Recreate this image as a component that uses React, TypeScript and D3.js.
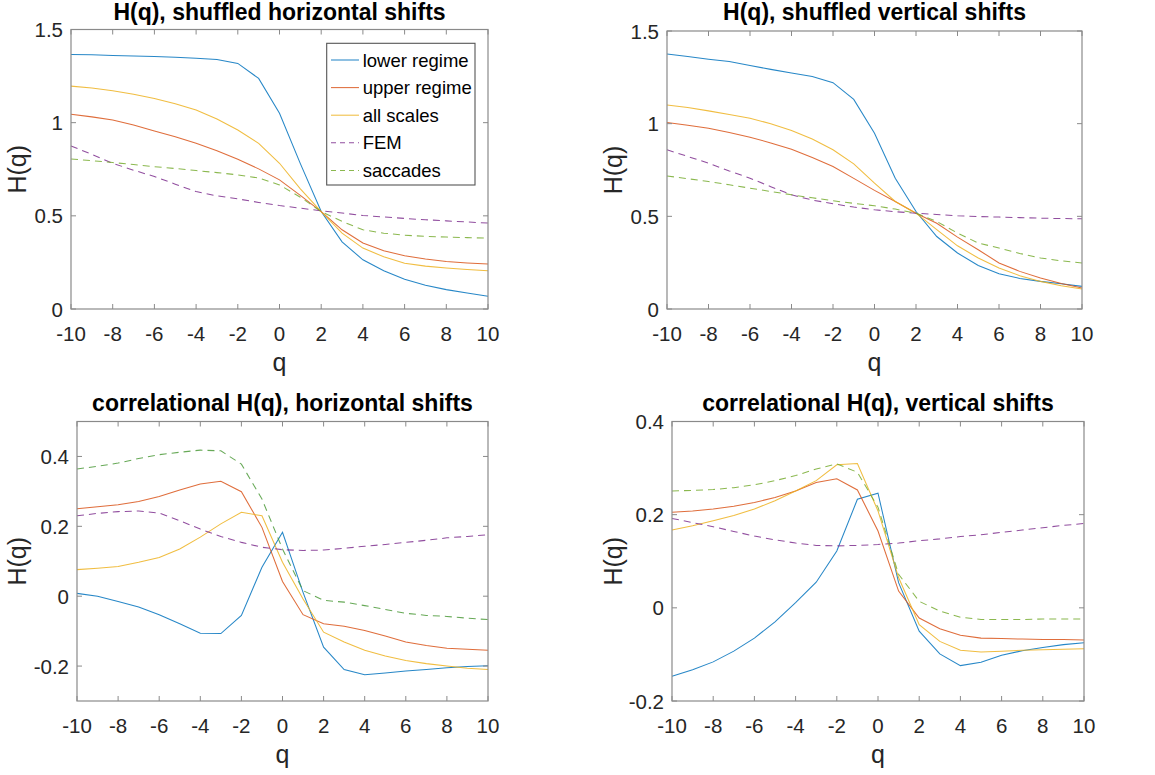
import React from "react";
import * as d3 from "d3";

const qValues = [-10, -9, -8, -7, -6, -5, -4, -3, -2, -1, 0, 1, 2, 3, 4, 5, 6, 7, 8, 9, 10];
const seriesNames = ["lower regime", "upper regime", "all scales", "FEM", "saccades"];
const xTicks = [-10, -8, -6, -4, -2, 0, 2, 4, 6, 8, 10];

// Panel 1: H(q), shuffled horizontal shifts
const shH_lower = [1.366, 1.364, 1.361, 1.358, 1.355, 1.351, 1.346, 1.339, 1.318, 1.2375, 1.05, 0.78, 0.523, 0.36, 0.264, 0.205, 0.16, 0.127, 0.104, 0.086, 0.068];
const shH_upper = [1.045, 1.031, 1.014, 0.987, 0.955, 0.924, 0.889, 0.849, 0.804, 0.752, 0.693, 0.61, 0.523, 0.425, 0.354, 0.313, 0.286, 0.268, 0.255, 0.247, 0.241];
const shH_all = [1.196, 1.186, 1.171, 1.153, 1.13, 1.102, 1.068, 1.02, 0.961, 0.889, 0.782, 0.645, 0.523, 0.407, 0.327, 0.28, 0.246, 0.23, 0.22, 0.212, 0.205];
const shH_fem = [0.875, 0.83, 0.782, 0.745, 0.711, 0.67, 0.63, 0.607, 0.591, 0.572, 0.555, 0.541, 0.527, 0.515, 0.502, 0.494, 0.486, 0.479, 0.473, 0.467, 0.461];
const shH_sacc = [0.805, 0.796, 0.786, 0.775, 0.764, 0.754, 0.743, 0.732, 0.72, 0.703, 0.666, 0.6, 0.523, 0.47, 0.425, 0.407, 0.396, 0.39, 0.386, 0.383, 0.38];

// Panel 2: H(q), shuffled vertical shifts
const shV_lower = [1.376, 1.362, 1.348, 1.335, 1.314, 1.293, 1.273, 1.254, 1.221, 1.131, 0.948, 0.706, 0.526, 0.391, 0.302, 0.235, 0.19, 0.165, 0.149, 0.136, 0.122];
const shV_upper = [1.006, 0.992, 0.975, 0.952, 0.927, 0.896, 0.862, 0.818, 0.769, 0.705, 0.64, 0.58, 0.517, 0.463, 0.388, 0.32, 0.248, 0.203, 0.167, 0.137, 0.113];
const shV_all = [1.101, 1.087, 1.069, 1.05, 1.029, 1.0, 0.963, 0.917, 0.859, 0.783, 0.679, 0.58, 0.517, 0.428, 0.341, 0.275, 0.221, 0.18, 0.149, 0.126, 0.108];
const shV_fem = [0.859, 0.823, 0.787, 0.745, 0.706, 0.66, 0.616, 0.588, 0.568, 0.55, 0.535, 0.525, 0.517, 0.51, 0.503, 0.499, 0.496, 0.493, 0.49, 0.488, 0.487];
const shV_sacc = [0.718, 0.703, 0.688, 0.67, 0.652, 0.634, 0.616, 0.6, 0.584, 0.57, 0.557, 0.539, 0.517, 0.472, 0.41, 0.356, 0.329, 0.3, 0.275, 0.26, 0.248];

// Panel 3: correlational H(q), horizontal shifts
const cH_lower = [0.008, 0.0, -0.015, -0.031, -0.053, -0.079, -0.106, -0.107, -0.055, 0.083, 0.183, 0.011, -0.146, -0.21, -0.225, -0.22, -0.214, -0.21, -0.205, -0.201, -0.199];
const cH_upper = [0.25, 0.256, 0.262, 0.271, 0.285, 0.304, 0.321, 0.329, 0.299, 0.197, 0.042, -0.053, -0.079, -0.086, -0.098, -0.114, -0.131, -0.141, -0.149, -0.152, -0.155];
const cH_all = [0.076, 0.08, 0.085, 0.097, 0.111, 0.135, 0.169, 0.207, 0.24, 0.23, 0.097, -0.008, -0.103, -0.131, -0.155, -0.171, -0.184, -0.193, -0.2, -0.206, -0.21];
const cH_fem = [0.23, 0.237, 0.242, 0.244, 0.238, 0.216, 0.192, 0.171, 0.154, 0.14, 0.133, 0.131, 0.132, 0.137, 0.143, 0.148, 0.154, 0.16, 0.167, 0.171, 0.176];
const cH_sacc = [0.364, 0.372, 0.381, 0.394, 0.405, 0.412, 0.418, 0.416, 0.378, 0.278, 0.135, 0.016, -0.012, -0.017, -0.027, -0.038, -0.049, -0.055, -0.058, -0.063, -0.067];

// Panel 4: correlational H(q), vertical shifts
const cV_lower = [-0.147, -0.133, -0.116, -0.093, -0.065, -0.03, 0.011, 0.055, 0.122, 0.233, 0.246, 0.054, -0.05, -0.099, -0.124, -0.117, -0.102, -0.092, -0.085, -0.079, -0.075];
const cV_upper = [0.205, 0.208, 0.212, 0.218, 0.226, 0.237, 0.251, 0.269, 0.277, 0.253, 0.165, 0.036, -0.022, -0.045, -0.059, -0.065, -0.066, -0.067, -0.068, -0.068, -0.069];
const cV_all = [0.167, 0.176, 0.187, 0.198, 0.212, 0.23, 0.251, 0.273, 0.307, 0.31, 0.208, 0.065, -0.036, -0.072, -0.091, -0.095, -0.093, -0.091, -0.09, -0.089, -0.088];
const cV_fem = [0.192, 0.183, 0.174, 0.164, 0.154, 0.146, 0.139, 0.134, 0.133, 0.134, 0.136, 0.139, 0.144, 0.148, 0.153, 0.157, 0.162, 0.167, 0.172, 0.177, 0.181];
const cV_sacc = [0.251, 0.252, 0.254, 0.258, 0.264, 0.273, 0.284, 0.298, 0.309, 0.291, 0.216, 0.072, 0.014, -0.007, -0.02, -0.025, -0.025, -0.025, -0.024, -0.024, -0.024];

const colors = ["#0072BD", "#D95319", "#EDB120", "#7E2F8E", "#77AC30"];
const dashed = [false, false, false, true, true];

const FONT = "'Liberation Sans', Arial, sans-serif";

type PanelCfg = {
  title: string;
  x0: number; x1: number; y0: number; y1: number;
  yDomain: [number, number];
  yTicks: number[];
  yLabelX: number;
  titleY: number;
  series: number[][];
  legend?: boolean;
  greenOverride?: string;
};

const panels: PanelCfg[] = [
  { title: "H(q), shuffled horizontal shifts", x0: 71, x1: 488, y0: 29.5, y1: 309, yDomain: [0, 1.5], yTicks: [0, 0.5, 1, 1.5], yLabelX: 26, titleY: 20, series: [shH_lower, shH_upper, shH_all, shH_fem, shH_sacc], legend: true },
  { title: "H(q), shuffled vertical shifts", x0: 667, x1: 1082, y0: 31, y1: 309, yDomain: [0, 1.5], yTicks: [0, 0.5, 1, 1.5], yLabelX: 622, titleY: 20, series: [shV_lower, shV_upper, shV_all, shV_fem, shV_sacc] },
  { title: "correlational H(q), horizontal shifts", x0: 77, x1: 488, y0: 421.5, y1: 701, yDomain: [-0.3, 0.5], yTicks: [-0.2, 0, 0.2, 0.4], yLabelX: 26, titleY: 410.5, series: [cH_lower, cH_upper, cH_all, cH_fem, cH_sacc], greenOverride: "#4C9A3A" },
  { title: "correlational H(q), vertical shifts", x0: 672, x1: 1084, y0: 421.5, y1: 701, yDomain: [-0.2, 0.4], yTicks: [-0.2, 0, 0.2, 0.4], yLabelX: 622, titleY: 410.5, series: [cV_lower, cV_upper, cV_all, cV_fem, cV_sacc] },
];

const fmt = (v: number) => {
  const r = Math.round(v * 10) / 10;
  return r === 0 ? "0" : String(r);
};

function Panel({ cfg }: { cfg: PanelCfg }) {
  const x = d3.scaleLinear().domain([-10, 10]).range([cfg.x0, cfg.x1]);
  const y = d3.scaleLinear().domain(cfg.yDomain).range([cfg.y1, cfg.y0]);
  const line = d3.line<number>().x((_, i) => x(qValues[i])).y((d) => y(d));
  const tickLen = 5;
  const axisColor = "#8a8a8a";
  const textColor = "#262626";
  const cx = (cfg.x0 + cfg.x1) / 2;
  const cy = (cfg.y0 + cfg.y1) / 2;
  return (
    <g>
      <rect x={cfg.x0} y={cfg.y0} width={cfg.x1 - cfg.x0} height={cfg.y1 - cfg.y0} fill="#fff" />
      {cfg.series.map((s, i) => (
        <path key={i} d={line(s) || ""} fill="none" stroke={i === 4 && cfg.greenOverride ? cfg.greenOverride : colors[i]} strokeOpacity={0.85} strokeWidth={1.05} strokeDasharray={dashed[i] ? "7,5" : undefined} />
      ))}
      <rect x={cfg.x0} y={cfg.y0} width={cfg.x1 - cfg.x0} height={cfg.y1 - cfg.y0} fill="none" stroke={axisColor} strokeWidth={1.2} />
      {xTicks.map((t) => (
        <g key={"x" + t}>
          <line x1={x(t)} x2={x(t)} y1={cfg.y1} y2={cfg.y1 - tickLen} stroke={axisColor} />
          <line x1={x(t)} x2={x(t)} y1={cfg.y0} y2={cfg.y0 + tickLen} stroke={axisColor} />
          <text x={x(t)} y={cfg.y1 + 31.5} textAnchor="middle" fontSize={20.5} fontFamily={FONT} fill={textColor}>{t}</text>
        </g>
      ))}
      {cfg.yTicks.map((t) => (
        <g key={"y" + t}>
          <line x1={cfg.x0} x2={cfg.x0 + tickLen} y1={y(t)} y2={y(t)} stroke={axisColor} />
          <line x1={cfg.x1} x2={cfg.x1 - tickLen} y1={y(t)} y2={y(t)} stroke={axisColor} />
          <text x={cfg.x0 - 8} y={y(t) + 7.5} textAnchor="end" fontSize={20.5} fontFamily={FONT} fill={textColor}>{fmt(t)}</text>
        </g>
      ))}
      <text x={cx} y={cfg.y1 + 62} textAnchor="middle" fontSize={25} fontFamily={FONT} fill={textColor}>q</text>
      <text transform={`translate(${cfg.yLabelX},${cy}) rotate(-90)`} textAnchor="middle" fontSize={25} fontFamily={FONT} fill={textColor}>H(q)</text>
      <text x={cx} y={cfg.titleY} textAnchor="middle" fontSize={23} fontWeight="bold" fontFamily={FONT} fill="#000">{cfg.title}</text>
      {cfg.legend && (
        <g>
          <rect x={326.7} y={43.3} width={148.3} height={141.7} fill="#fff" stroke="#555" strokeWidth={1.1} />
          {seriesNames.map((n, i) => {
            const ry = 60 + i * 27.6;
            return (
              <g key={n}>
                <line x1={331} x2={359} y1={ry} y2={ry} stroke={colors[i]} strokeOpacity={0.85} strokeWidth={1.05} strokeDasharray={dashed[i] ? "5,4" : undefined} />
                <text x={362.7} y={ry + 6.5} fontSize={18.5} fontFamily={FONT} fill="#000">{n}</text>
              </g>
            );
          })}
        </g>
      )}
    </g>
  );
}

export default function App() {
  return (
    <svg width={1155} height={775} style={{ position: "absolute", left: 0, top: 0, background: "#fff" }}>
      <rect x={0} y={0} width={1155} height={775} fill="#fff" />
      {panels.map((p, i) => (
        <Panel key={i} cfg={p} />
      ))}
    </svg>
  );
}
